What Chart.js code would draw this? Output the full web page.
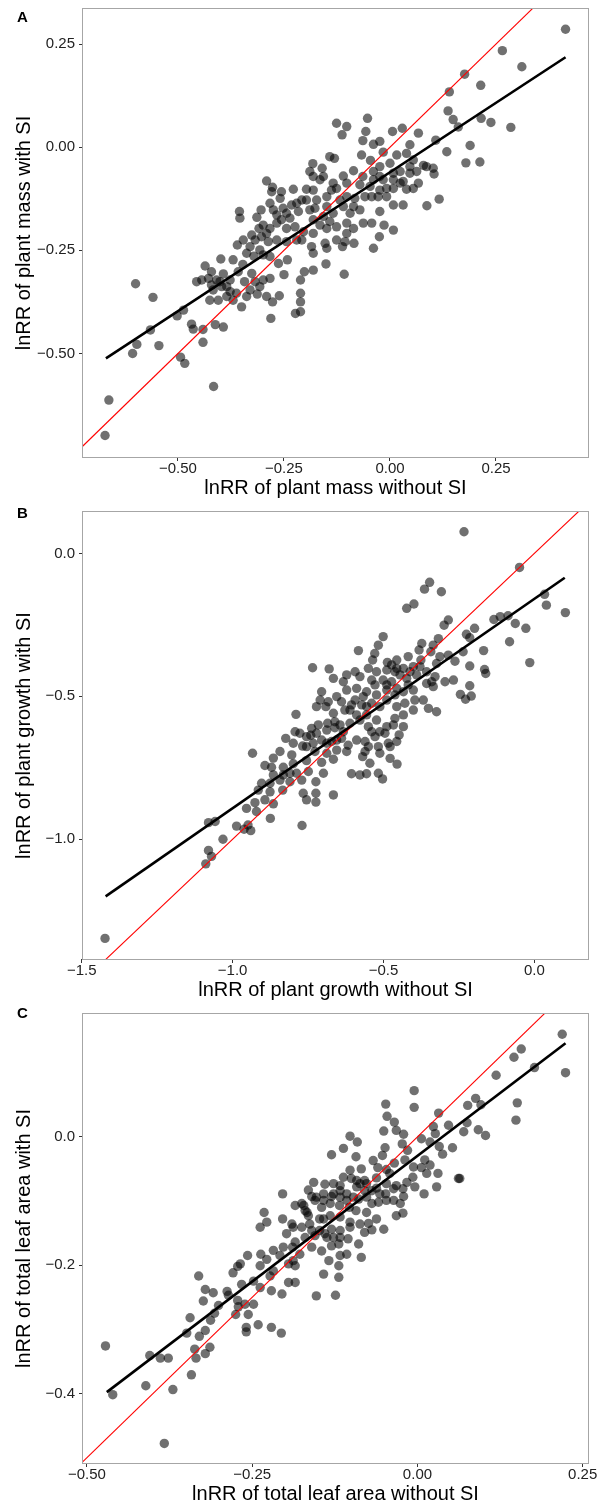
<!DOCTYPE html>
<html>
<head>
<meta charset="utf-8">
<script src="https://cdn.jsdelivr.net/npm/chart.js@4.4.1/dist/chart.umd.min.js"></script>
<style>
  html, body { margin: 0; padding: 0; background: #fff; }
  body { width: 598px; height: 1506px; position: relative; overflow: hidden; font-family: "Liberation Sans", Arial, sans-serif; }
  canvas { position: absolute; left: 0; }
  .tag { position: absolute; left: 17px; font-weight: bold; font-size: 15px; line-height: 15px; color: #000; }
</style>
</head>
<body>
<canvas id="chart-a" width="598" height="500" style="top:0"></canvas>
<canvas id="chart-b" width="598" height="502" style="top:500px"></canvas>
<canvas id="chart-c" width="598" height="504" style="top:1002px"></canvas>
<div class="tag" style="top:9px">A</div>
<div class="tag" style="top:505px">B</div>
<div class="tag" style="top:1005px">C</div>
<script>
// [without SI, with SI] pairs
const massPoints = [
  [0.414,0.286],[0.265,0.234],[0.311,0.195],[0.176,0.177],[0.214,0.150],[0.140,0.134],[0.137,0.088],[0.149,0.067],
  [0.161,0.049],[0.215,0.070],[0.238,0.060],[0.285,0.048],[0.189,0.004],[0.134,-0.011],[0.108,0.017],[0.179,-0.038],
  [0.212,-0.036],[0.086,-0.047],[0.102,-0.051],[0.104,-0.065],[0.116,-0.126],[0.087,-0.142],[0.079,-0.044],
  [-0.053,0.070],[-0.126,0.058],[-0.102,0.050],[-0.113,0.030],[-0.057,0.038],[0.006,0.038],[0.029,0.046],[-0.064,0.016],
  [-0.039,0.007],[-0.024,0.014],[0.047,0.006],[0.067,0.034],[-0.016,-0.012],[-0.067,-0.019],[-0.046,-0.032],[0.016,-0.019],
  [0.039,-0.015],[0.055,-0.031],[-0.142,-0.023],[-0.131,-0.027],[-0.182,-0.040],[-0.160,-0.051],[-0.189,-0.059],[-0.181,-0.071],
  [-0.157,-0.071],[-0.134,-0.087],[-0.110,-0.070],[-0.086,-0.057],[-0.064,-0.071],[-0.039,-0.059],[-0.024,-0.047],[0.000,-0.039],
  [0.024,-0.059],[0.047,-0.063],[0.063,-0.059],[-0.016,-0.079],[0.008,-0.079],[0.031,-0.083],[0.055,-0.100],[0.067,-0.087],
  [-0.071,-0.091],[-0.047,-0.095],[-0.024,-0.104],[0.008,-0.100],[0.039,-0.102],[-0.291,-0.082],[-0.277,-0.097],[-0.279,-0.108],
  [-0.256,-0.108],[-0.259,-0.124],[-0.228,-0.102],[-0.197,-0.102],[-0.181,-0.104],[-0.173,-0.128],[-0.149,-0.120],[-0.126,-0.100],
  [-0.102,-0.120],[-0.083,-0.124],[-0.059,-0.120],[-0.043,-0.120],[-0.028,-0.120],[-0.008,-0.120],[-0.208,-0.128],[-0.232,-0.140],
  [-0.252,-0.148],[-0.275,-0.152],[-0.283,-0.136],[-0.304,-0.152],[-0.314,-0.170],[-0.355,-0.156],[-0.354,-0.172],[-0.267,-0.164],
  [-0.244,-0.160],[-0.216,-0.156],[-0.189,-0.152],[-0.177,-0.148],[-0.149,-0.144],[-0.134,-0.160],[-0.110,-0.144],[-0.094,-0.160],
  [-0.063,-0.184],[-0.043,-0.184],[-0.024,-0.156],[0.008,-0.140],[0.031,-0.140],[-0.014,-0.189],[0.008,-0.201],[-0.025,-0.217],
  [-0.039,-0.245],[-0.086,-0.197],[-0.102,-0.184],[-0.126,-0.193],[-0.149,-0.197],[-0.165,-0.189],[-0.181,-0.209],[-0.204,-0.205],
  [-0.224,-0.193],[-0.244,-0.197],[-0.267,-0.184],[-0.283,-0.197],[-0.309,-0.197],[-0.303,-0.217],[-0.326,-0.213],[-0.318,-0.225],
  [-0.346,-0.225],[-0.360,-0.237],[-0.287,-0.229],[-0.267,-0.225],[-0.244,-0.229],[-0.220,-0.225],[-0.185,-0.241],[-0.181,-0.257],
  [-0.153,-0.233],[-0.149,-0.245],[-0.106,-0.229],[-0.085,-0.233],[-0.112,-0.241],[-0.151,-0.283],[-0.108,-0.308],[-0.202,-0.302],
  [-0.181,-0.298],[-0.211,-0.322],[-0.242,-0.273],[-0.250,-0.309],[-0.263,-0.282],[-0.283,-0.265],[-0.299,-0.261],[-0.321,-0.264],
  [-0.338,-0.257],[-0.347,-0.284],[-0.370,-0.273],[-0.399,-0.271],[-0.436,-0.288],[-0.421,-0.302],[-0.456,-0.326],[-0.444,-0.322],
  [-0.428,-0.318],[-0.409,-0.322],[-0.393,-0.307],[-0.377,-0.322],[-0.358,-0.302],[-0.343,-0.326],[-0.326,-0.306],[-0.318,-0.326],
  [-0.299,-0.322],[-0.283,-0.318],[-0.417,-0.346],[-0.397,-0.338],[-0.377,-0.350],[-0.362,-0.354],[-0.425,-0.371],[-0.405,-0.371],
  [-0.385,-0.362],[-0.350,-0.387],[-0.330,-0.346],[-0.307,-0.338],[-0.291,-0.362],[-0.277,-0.375],[-0.261,-0.360],[-0.211,-0.354],
  [-0.211,-0.375],[-0.223,-0.403],[-0.211,-0.399],[-0.487,-0.395],[-0.281,-0.415],
  [-0.600,-0.331],[-0.559,-0.364],[-0.565,-0.443],[-0.597,-0.478],[-0.607,-0.500],[-0.545,-0.481],[-0.663,-0.613],[-0.672,-0.699],
  [-0.502,-0.409],[-0.468,-0.429],[-0.464,-0.441],[-0.441,-0.442],[-0.412,-0.430],[-0.393,-0.436],[-0.441,-0.473],[-0.494,-0.509],
  [-0.484,-0.524],[-0.416,-0.580],
  [-0.165,-0.079],[-0.138,-0.104],[-0.118,-0.128],[-0.086,-0.144],[-0.071,-0.152],[-0.157,-0.168],[-0.142,-0.180],[-0.236,-0.172],
  [-0.256,-0.176],[-0.299,-0.189],[-0.330,-0.241],[-0.307,-0.249],[-0.291,-0.209],[-0.401,-0.326],[-0.421,-0.334],[-0.385,-0.338],
  [-0.338,-0.362],[-0.313,-0.356],[-0.370,-0.371],[-0.039,-0.079],[-0.024,-0.071],[-0.008,-0.100],[0.024,-0.087],[0.047,-0.047],
  [0.008,-0.063],[-0.102,-0.087],[-0.197,-0.128],[-0.220,-0.136],[-0.181,-0.176],[-0.208,-0.225],[-0.102,-0.209],[-0.126,-0.225]
];

const growthPoints = [
  [-0.233,0.076],[-0.049,-0.049],[-0.347,-0.101],[-0.364,-0.125],[-0.308,-0.134],[0.034,-0.143],[0.040,-0.181],[0.103,-0.207],
  [-0.134,-0.231],[-0.113,-0.221],[-0.087,-0.218],[-0.063,-0.245],[-0.028,-0.262],[-0.082,-0.309],[-0.015,-0.382],[-0.198,-0.262],
  [-0.225,-0.283],[-0.214,-0.295],[-0.236,-0.344],[-0.168,-0.340],[-0.214,-0.394],[-0.165,-0.406],[-0.161,-0.420],[-0.214,-0.463],
  [-0.245,-0.493],[-0.209,-0.499],[-0.228,-0.510],
  [-0.423,-0.192],[-0.399,-0.177],[-0.299,-0.251],[-0.285,-0.233],[-0.501,-0.291],[-0.517,-0.321],[-0.373,-0.315],[-0.335,-0.321],
  [-0.318,-0.298],[-0.583,-0.340],[-0.529,-0.350],[-0.536,-0.373],[-0.487,-0.381],[-0.456,-0.373],[-0.418,-0.361],[-0.382,-0.338],
  [-0.343,-0.344],[-0.376,-0.373],[-0.313,-0.361],[-0.285,-0.356],[-0.263,-0.377],[-0.324,-0.385],[-0.401,-0.396],[-0.434,-0.402],
  [-0.462,-0.414],[-0.489,-0.408],[-0.523,-0.414],[-0.550,-0.402],[-0.594,-0.414],[-0.622,-0.425],[-0.735,-0.400],[-0.680,-0.404],
  [-0.666,-0.437],[-0.633,-0.449],[-0.578,-0.431],[-0.539,-0.443],[-0.501,-0.443],[-0.473,-0.449],[-0.423,-0.437],[-0.390,-0.425],
  [-0.357,-0.455],[-0.329,-0.431],[-0.296,-0.449],[-0.268,-0.443],[-0.335,-0.466],[-0.401,-0.478],[-0.434,-0.484],[-0.462,-0.495],
  [-0.489,-0.478],[-0.523,-0.495],[-0.556,-0.484],[-0.589,-0.472],[-0.622,-0.478],[-0.655,-0.501],[-0.705,-0.484],[-0.710,-0.513],
  [-0.683,-0.519],[-0.639,-0.519],[-0.722,-0.536],[-0.691,-0.536],[-0.606,-0.530],[-0.572,-0.530],[-0.539,-0.524],[-0.512,-0.536],
  [-0.489,-0.513],[-0.456,-0.536],[-0.429,-0.524],[-0.396,-0.513],[-0.368,-0.513],[-0.351,-0.542],[-0.324,-0.554],[-0.401,-0.548],
  [-0.434,-0.565],[-0.462,-0.577],[-0.467,-0.600],[-0.790,-0.563],[-0.666,-0.559],[-0.628,-0.548],[-0.589,-0.565],[-0.556,-0.565],
  [-0.523,-0.583],[-0.489,-0.606],[-0.550,-0.606],[-0.611,-0.594],[-0.644,-0.600],[-0.661,-0.610],[-0.685,-0.594],[-0.716,-0.600],
  [-0.738,-0.612],[-0.741,-0.636],[-0.793,-0.624],[-0.824,-0.647],[-0.799,-0.664],[-0.768,-0.674],[-0.733,-0.664],[-0.705,-0.653],
  [-0.672,-0.658],[-0.639,-0.647],[-0.617,-0.671],[-0.589,-0.653],[-0.561,-0.658],[-0.528,-0.641],[-0.495,-0.629],[-0.448,-0.635],
  [-0.434,-0.606],[-0.456,-0.658],[-0.484,-0.664],[-0.517,-0.676],[-0.550,-0.676],[-0.622,-0.693],[-0.655,-0.688],[-0.688,-0.699],
  [-0.727,-0.693],[-0.755,-0.676],[-0.804,-0.705],[-0.843,-0.693],[-0.865,-0.716],[-0.893,-0.742],[-0.934,-0.699],[-0.871,-0.748],
  [-0.832,-0.748],[-0.799,-0.736],[-0.755,-0.725],[-0.705,-0.731],[-0.666,-0.720],[-0.569,-0.711],[-0.545,-0.734],[-0.478,-0.717],
  [-0.455,-0.737],[-0.865,-0.775],[-0.832,-0.775],[-0.788,-0.769],[-0.749,-0.763],[-0.699,-0.769],[-0.606,-0.771],[-0.578,-0.775],
  [-0.556,-0.771],[-0.517,-0.769],[-0.503,-0.789],[-0.904,-0.804],[-0.876,-0.804],[-0.843,-0.793],[-0.810,-0.799],[-0.771,-0.793],
  [-0.724,-0.799],[-0.915,-0.828],[-0.876,-0.834],[-0.834,-0.828],[-0.766,-0.839],[-0.724,-0.839],[-0.666,-0.845],[-0.755,-0.862],
  [-0.724,-0.870],[-0.893,-0.862],[-0.865,-0.876],[-0.926,-0.872],[-0.954,-0.892],[-0.921,-0.903],[-0.875,-0.927],
  [-1.080,-0.942],[-1.058,-0.938],[-0.987,-0.954],[-0.962,-0.965],[-0.940,-0.970],[-0.949,-0.950],[-0.770,-0.952],[-1.032,-1.000],
  [-1.080,-1.039],[-1.070,-1.060],[-1.089,-1.086],[-1.423,-1.347],
  [-0.611,-0.548],[-0.594,-0.513],[-0.567,-0.501],[-0.556,-0.536],[-0.578,-0.583],[-0.539,-0.624],[-0.512,-0.624],[-0.633,-0.624],
  [-0.661,-0.589],[-0.688,-0.618],[-0.722,-0.629],[-0.755,-0.641],[-0.777,-0.629],[-0.473,-0.390],[-0.456,-0.402],[-0.445,-0.425],
  [-0.412,-0.414],[-0.379,-0.396],[-0.357,-0.414],[-0.340,-0.449],[-0.418,-0.460],[-0.456,-0.472],[-0.489,-0.460],[-0.528,-0.460],
  [-0.655,-0.653],[-0.688,-0.664],[-0.512,-0.699],[-0.478,-0.676],[-0.561,-0.693],[-0.810,-0.769]
];

const leafPoints = [
  [0.219,0.160],[0.157,0.137],[0.146,0.124],[0.177,0.108],[0.224,0.100],[0.119,0.096],[0.151,0.053],[0.149,0.026],
  [0.088,0.060],[0.076,0.049],[0.096,0.050],[0.075,0.022],[0.092,0.011],[0.103,0.002],[0.070,0.008],[0.064,-0.065],
  [-0.005,0.072],[-0.048,0.051],[-0.005,0.046],[0.032,0.037],[-0.046,0.032],[-0.035,0.023],[-0.032,0.010],[-0.051,0.009],
  [-0.021,0.004],[0.024,0.016],[0.027,0.005],[0.047,0.018],[-0.102,0.001],[-0.091,-0.008],[-0.049,-0.017],[-0.023,-0.011],
  [-0.015,-0.021],[0.006,-0.003],[0.019,-0.008],[0.033,-0.015],[0.038,-0.027],[0.053,-0.017],[-0.130,-0.028],[-0.112,-0.018],
  [-0.093,-0.031],[-0.067,-0.037],[-0.053,-0.029],[-0.035,-0.041],[-0.019,-0.036],[-0.006,-0.047],[0.011,-0.036],[0.006,-0.048],
  [0.019,-0.044],[0.031,-0.057],[-0.007,-0.063],[-0.004,-0.078],[0.010,-0.089],[0.029,-0.078],[0.062,-0.065],[-0.102,-0.052],
  [-0.085,-0.050],[-0.060,-0.048],[-0.047,-0.051],[-0.112,-0.063],[-0.100,-0.065],[-0.080,-0.068],[-0.062,-0.064],[-0.047,-0.073],
  [-0.032,-0.076],[-0.022,-0.081],[-0.157,-0.071],[-0.140,-0.074],[-0.127,-0.073],[-0.117,-0.076],[-0.092,-0.078],[-0.080,-0.084],
  [-0.062,-0.080],[-0.048,-0.089],[-0.036,-0.081],[-0.021,-0.093],[-0.165,-0.083],[-0.160,-0.093],[-0.142,-0.089],[-0.130,-0.093],
  [-0.117,-0.094],[-0.107,-0.089],[-0.089,-0.097],[-0.077,-0.094],[-0.069,-0.104],[-0.059,-0.102],[-0.204,-0.089],[-0.185,-0.107],
  [-0.175,-0.104],[-0.167,-0.118],[-0.155,-0.099],[-0.145,-0.110],[-0.132,-0.104],[-0.118,-0.107],[-0.103,-0.110],[-0.093,-0.115],
  [-0.077,-0.118],[-0.062,-0.128],[-0.032,-0.123],[-0.022,-0.119],[-0.232,-0.118],[-0.204,-0.128],[-0.190,-0.136],[-0.175,-0.141],
  [-0.163,-0.136],[-0.148,-0.128],[-0.132,-0.123],[-0.117,-0.125],[-0.102,-0.133],[-0.087,-0.136],[-0.074,-0.135],[-0.051,-0.144],
  [-0.238,-0.141],[-0.228,-0.133],[-0.198,-0.151],[-0.185,-0.164],[-0.170,-0.157],[-0.155,-0.154],[-0.140,-0.151],[-0.130,-0.144],
  [-0.117,-0.146],[-0.105,-0.159],[-0.089,-0.167],[-0.080,-0.149],[-0.069,-0.145],[-0.189,-0.172],[-0.178,-0.183],[-0.160,-0.172],
  [-0.145,-0.178],[-0.130,-0.170],[-0.119,-0.167],[-0.107,-0.183],[-0.117,-0.185],[-0.085,-0.188],[-0.257,-0.185],[-0.237,-0.183],
  [-0.228,-0.191],[-0.208,-0.185],[-0.188,-0.193],[-0.134,-0.193],[-0.119,-0.201],[-0.268,-0.198],[-0.238,-0.201],[-0.218,-0.209],
  [-0.223,-0.217],[-0.195,-0.198],[-0.185,-0.201],[-0.142,-0.214],[-0.119,-0.219],[-0.248,-0.225],[-0.238,-0.235],[-0.221,-0.240],
  [-0.266,-0.230],[-0.195,-0.227],[-0.185,-0.227],[-0.205,-0.245],[-0.153,-0.248],[-0.124,-0.247],[-0.261,-0.261],[-0.248,-0.261],
  [-0.472,-0.326],[-0.461,-0.402],[-0.411,-0.388],[-0.405,-0.341],[-0.389,-0.345],[-0.377,-0.345],[-0.370,-0.394],[-0.383,-0.478],
  [-0.349,-0.306],[-0.344,-0.282],[-0.342,-0.371],[-0.337,-0.331],[-0.335,-0.345],[-0.330,-0.311],[-0.321,-0.302],[-0.314,-0.328],
  [-0.321,-0.338],[-0.313,-0.286],[-0.307,-0.275],[-0.275,-0.277],[-0.259,-0.304],[-0.259,-0.297],[-0.241,-0.293],[-0.256,-0.277],
  [-0.221,-0.297],[-0.206,-0.306],[-0.331,-0.217],[-0.324,-0.256],[-0.321,-0.238],[-0.309,-0.243],[-0.301,-0.263],[-0.288,-0.241],
  [-0.286,-0.247],[-0.279,-0.212],[-0.272,-0.202],[-0.272,-0.255],[-0.271,-0.265],
  [-0.170,-0.115],[-0.165,-0.123],[-0.172,-0.107],[-0.153,-0.094],[-0.142,-0.099],[-0.127,-0.089],[-0.117,-0.084],[-0.107,-0.099],
  [-0.097,-0.094],[-0.087,-0.073],[-0.077,-0.073],[-0.069,-0.084],[-0.057,-0.089],[-0.047,-0.099],[-0.036,-0.099],[-0.026,-0.104],
  [-0.188,-0.141],[-0.160,-0.146],[-0.148,-0.146],[-0.137,-0.157],[-0.127,-0.157],[-0.117,-0.157],[-0.203,-0.172],[-0.218,-0.177],
  [-0.092,-0.068],[-0.042,-0.057],[-0.016,-0.071],[0.014,-0.057],[-0.142,-0.128],[-0.102,-0.141]
];

// fitted regression line end points (black)
const massFit = [[-0.670,-0.512],[0.414,0.218]];
const growthFit = [[-1.421,-1.200],[0.101,-0.085]];
const leafFit = [[-0.470,-0.398],[0.224,0.146]];

// axis extents and tick marks
const massXRange = [-0.724, 0.467];
const massYRange = [-0.751, 0.335];
const growthXRange = [-1.496, 0.178];
const growthYRange = [-1.419, 0.145];
const leafXRange = [-0.506, 0.258];
const leafYRange = [-0.5085, 0.1915];

const massTicks = [-0.5, -0.25, 0, 0.25];
const growthXTicks = [-1.5, -1.0, -0.5, 0.0];
const growthYTicks = [-1.0, -0.5, 0.0];
const leafXTicks = [-0.5, -0.25, 0, 0.25];
const leafYTicks = [-0.4, -0.2, 0.0];

const FONT = '"Liberation Sans", Arial, sans-serif';

function fmt(v, digits) {
  const s = Math.abs(v).toFixed(digits);
  return (v < -1e-9 ? "\u2212" : "") + s;
}

const panelBorder = {
  id: "panelBorder",
  afterDatasetsDraw(chart) {
    const { ctx, chartArea: a } = chart;
    ctx.save();
    ctx.strokeStyle = "#a6a6a6";
    ctx.lineWidth = 1;
    ctx.strokeRect(a.left - 0.5, a.top - 0.5, a.right - a.left + 1, a.bottom - a.top + 1);
    ctx.restore();
  },
};

function buildPanel(p) {
  const lo = Math.min(p.xRange[0], p.yRange[0]);
  const hi = Math.max(p.xRange[1], p.yRange[1]);
  return new Chart(document.getElementById(p.id), {
    type: "scatter",
    data: {
      datasets: [
        {
          data: p.points.map(([x, y]) => ({ x, y })),
          pointRadius: 4.7,
          pointBackgroundColor: "rgba(0,0,0,0.56)",
          pointBorderWidth: 0,
          order: 2,
        },
        {
          data: [{ x: lo, y: lo }, { x: hi, y: hi }],
          showLine: true,
          borderColor: "#ff0000",
          borderWidth: 1.1,
          pointRadius: 0,
          order: 1,
        },
        {
          data: p.fit.map(([x, y]) => ({ x, y })),
          showLine: true,
          borderColor: "#000",
          borderWidth: 2.6,
          pointRadius: 0,
          order: 0,
        },
      ],
    },
    options: {
      responsive: false,
      animation: false,
      events: [],
      layout: { padding: { top: p.padTop, right: 10, left: 0, bottom: 0 } },
      plugins: { legend: { display: false }, tooltip: { enabled: false } },
      scales: {
        x: {
          type: "linear",
          min: p.xRange[0],
          max: p.xRange[1],
          afterBuildTicks: (s) => { s.ticks = p.xTicks.map((v) => ({ value: v })); },
          afterFit: (s) => { s.height = 43; s.paddingLeft = 0; s.paddingRight = 0; },
          ticks: { callback: (v) => fmt(v, p.xDigits), font: { size: 15, family: FONT, lineHeight: 1 }, color: "#222", padding: 0, maxRotation: 0, autoSkip: false },
          grid: { drawOnChartArea: false, tickLength: 4, tickColor: "#333", color: "#333" },
          border: { display: false },
          title: { display: true, text: p.xTitle, font: { size: 20, family: FONT }, color: "#000", padding: 0 },
        },
        y: {
          type: "linear",
          min: p.yRange[0],
          max: p.yRange[1],
          afterBuildTicks: (s) => { s.ticks = p.yTicks.map((v) => ({ value: v })); },
          afterFit: (s) => { s.width = 83; s.paddingTop = 0; s.paddingBottom = 0; },
          ticks: { callback: (v) => fmt(v, p.yDigits), font: { size: 15, family: FONT }, color: "#222", padding: 4, autoSkip: false },
          grid: { drawOnChartArea: false, tickLength: 4, tickColor: "#333", color: "#333" },
          border: { display: false },
          title: { display: true, text: p.yTitle, font: { size: 20, family: FONT }, color: "#000", padding: { top: 12, bottom: 0 } },
        },
      },
    },
    plugins: [panelBorder],
  });
}

buildPanel({
  id: "chart-a", points: massPoints, fit: massFit,
  xRange: massXRange, yRange: massYRange, xTicks: massTicks, yTicks: massTicks,
  xDigits: 2, yDigits: 2, padTop: 9,
  xTitle: "lnRR of plant mass without SI", yTitle: "lnRR of plant mass with SI",
});

buildPanel({
  id: "chart-b", points: growthPoints, fit: growthFit,
  xRange: growthXRange, yRange: growthYRange, xTicks: growthXTicks, yTicks: growthYTicks,
  xDigits: 1, yDigits: 1, padTop: 12,
  xTitle: "lnRR of plant growth without SI", yTitle: "lnRR of plant growth with SI",
});

buildPanel({
  id: "chart-c", points: leafPoints, fit: leafFit,
  xRange: leafXRange, yRange: leafYRange, xTicks: leafXTicks, yTicks: leafYTicks,
  xDigits: 2, yDigits: 1, padTop: 12,
  xTitle: "lnRR of total leaf area without SI", yTitle: "lnRR of total leaf area with SI",
});
</script>
</body>
</html>
